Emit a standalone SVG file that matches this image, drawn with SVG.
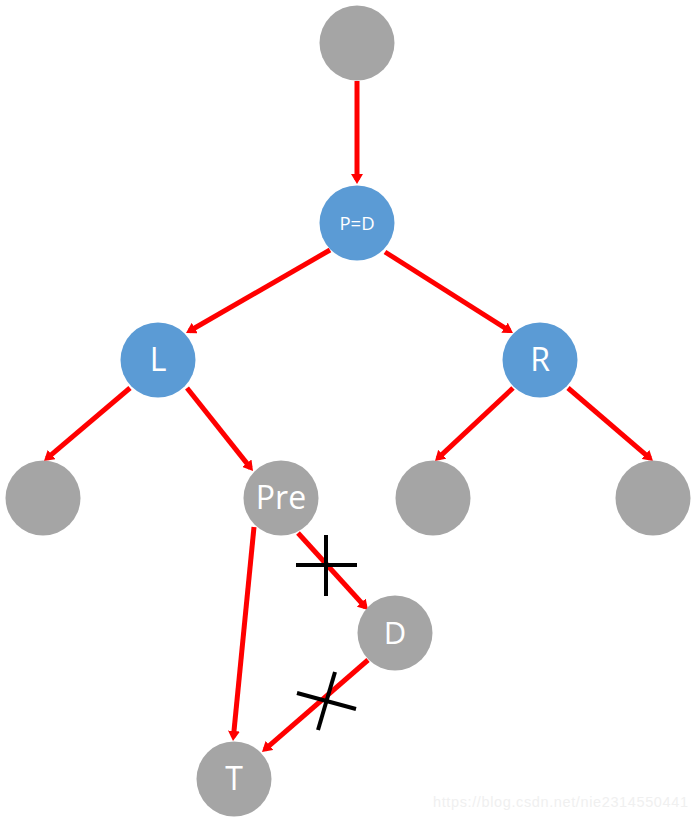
<svg xmlns="http://www.w3.org/2000/svg" width="697" height="820" viewBox="0 0 697 820">
<defs>
<marker id="ah" viewBox="0 0 10 12" markerWidth="10" markerHeight="12" refX="6" refY="6" orient="auto" markerUnits="userSpaceOnUse">
<path d="M0,0 L10,6 L0,12 z" fill="#FF0000"/>
</marker>
<style>
.blue{fill:#5B9BD5}
.gray{fill:#A5A5A5}
.lbl{fill:#FFFFFF;font-family:"Open Sans","Noto Sans",sans-serif;text-anchor:middle}
.e{stroke:#FF0000;stroke-width:5;fill:none;marker-end:url(#ah)}
.x{stroke:#000000;stroke-width:4;fill:none}
</style>
</defs>
<rect width="697" height="820" fill="#FFFFFF"/>
<g id="connectors">
<line class="e" x1="357" y1="81" x2="357" y2="180"/>
<line class="e" x1="330" y1="250" x2="189.5" y2="331"/>
<line class="e" x1="385" y1="252" x2="509.6" y2="330.9"/>
<line class="e" x1="130" y1="388" x2="47" y2="458.4"/>
<line class="e" x1="187" y1="388" x2="250.5" y2="467.9"/>
<line class="e" x1="513" y1="388" x2="437.9" y2="458.3"/>
<line class="e" x1="568" y1="388" x2="650" y2="458.4"/>
<line class="e" x1="254" y1="527" x2="233.4" y2="737"/>
<line class="e" x1="298" y1="533" x2="365.3" y2="607"/>
<line class="e" x1="368" y1="660" x2="265" y2="749.4"/>
</g>
<g id="cross1">
<line class="x" x1="296" y1="565" x2="357" y2="565"/>
<line class="x" x1="326" y1="535" x2="326" y2="596"/>
</g>
<g id="cross2">
<line class="x" x1="297" y1="693" x2="356" y2="709"/>
<line class="x" x1="335" y1="672" x2="318" y2="730"/>
</g>
<g id="n-top"><circle class="gray" cx="357" cy="43" r="37.5"/></g>
<g id="n-pd"><circle class="blue" cx="357" cy="223" r="37.5"/><text class="lbl" x="357" y="229.5" font-size="18.5">P=D</text></g>
<g id="n-l"><circle class="blue" cx="158" cy="360" r="37.5"/><text class="lbl" x="158" y="371" font-size="32">L</text></g>
<g id="n-r"><circle class="blue" cx="540" cy="360" r="37.5"/><text class="lbl" x="540" y="371" font-size="32">R</text></g>
<g id="n-ll"><circle class="gray" cx="43" cy="498" r="37.5"/></g>
<g id="n-pre"><circle class="gray" cx="281" cy="498" r="37.5"/><text class="lbl" x="281" y="509" font-size="32">Pre</text></g>
<g id="n-rl"><circle class="gray" cx="433" cy="498" r="37.5"/></g>
<g id="n-rr"><circle class="gray" cx="653" cy="498" r="37.5"/></g>
<g id="n-d"><circle class="gray" cx="395" cy="633" r="37.5"/><text class="lbl" x="395" y="644" font-size="31">D</text></g>
<g id="n-t"><circle class="gray" cx="234" cy="779" r="37.5"/><text class="lbl" x="234" y="790" font-size="32">T</text></g>
<text x="433" y="807" font-family="Liberation Sans, Arial, sans-serif" font-size="14.5" fill="#F0F0F0" textLength="255">https://blog.csdn.net/nie2314550441</text>
</svg>
